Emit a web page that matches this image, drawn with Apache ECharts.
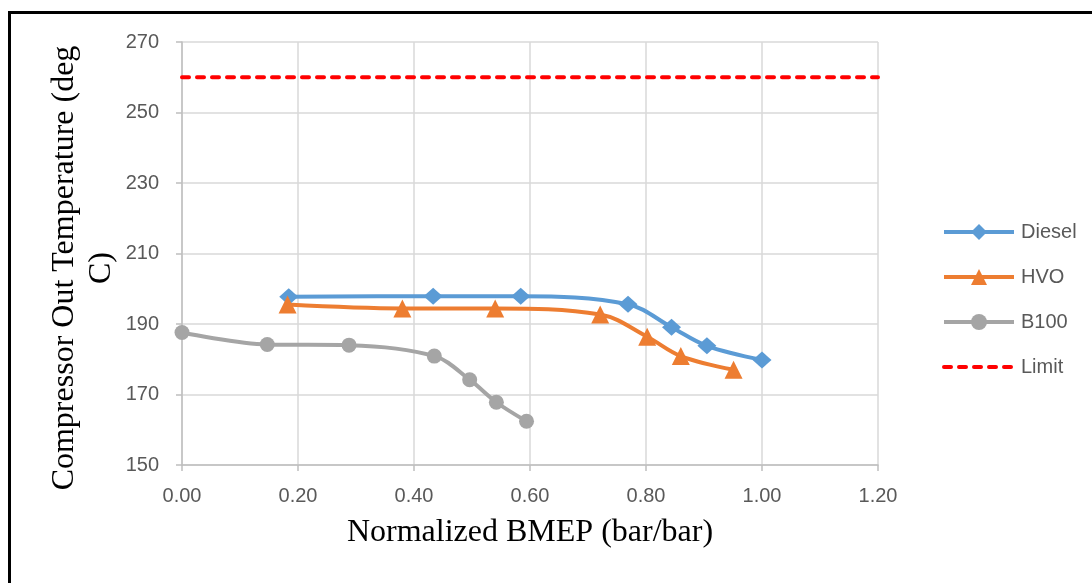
<!DOCTYPE html>
<html>
<head>
<meta charset="utf-8">
<style>
html,body{margin:0;padding:0;background:#fff;}
#chart{width:1092px;height:583px;}
</style>
<script src="https://cdn.jsdelivr.net/npm/echarts@6/dist/echarts.min.js"></script>
</head>
<body>
<div id="chart"></div>
<script>
// Data
const xTickMin = 0, xTickMax = 1.2, xTickStep = 0.2;
const yTickMin = 150, yTickMax = 270, yTickStep = 20;

const seriesNames = ['Diesel', 'HVO', 'B100', 'Limit'];

const dieselX = [0.184, 0.433, 0.584, 0.769, 0.844, 0.905, 1.000];
const dieselY = [197.7, 197.9, 197.9, 195.6, 189.1, 183.8, 179.8];

const hvoX = [0.182, 0.380, 0.540, 0.721, 0.802, 0.860, 0.951];
const hvoY = [195.5, 194.4, 194.4, 192.7, 186.4, 180.9, 177.0];

const b100X = [0.000, 0.147, 0.288, 0.435, 0.496, 0.542, 0.594];
const b100Y = [187.6, 184.2, 184.0, 180.9, 174.2, 167.8, 162.4];

const limitX = [0.0, 1.2];
const limitY = [260, 260];

const xTitle = 'Normalized BMEP (bar/bar)';
const yTitle = 'Compressor Out Temperature (deg\nC)';

function pairs(xs, ys) { return xs.map((x, i) => [x, ys[i]]); }

const chart = echarts.init(document.getElementById('chart'), null, {renderer: 'canvas'});

const tickFont = {color: '#595959', fontFamily: '"Liberation Sans", Arial, sans-serif', fontSize: 20};

chart.setOption({
  animation: false,
  backgroundColor: '#ffffff',
  grid: {left: 182, right: 214, top: 42, bottom: 118, containLabel: false},
  xAxis: {
    type: 'value', min: xTickMin, max: xTickMax, interval: xTickStep,
    axisLine: {show: true, lineStyle: {color: '#bfbfbf', width: 1.5}},
    axisTick: {show: true, inside: false, length: 6, lineStyle: {color: '#bfbfbf', width: 1.5}},
    splitLine: {show: true, lineStyle: {color: '#d9d9d9', width: 1.5}},
    axisLabel: Object.assign({margin: 21, formatter: v => v.toFixed(2)}, tickFont)
  },
  yAxis: {
    type: 'value', min: yTickMin, max: yTickMax, interval: yTickStep,
    axisLine: {show: true, lineStyle: {color: '#bfbfbf', width: 1.5}},
    axisTick: {show: true, inside: false, length: 6, lineStyle: {color: '#bfbfbf', width: 1.5}},
    splitLine: {show: true, lineStyle: {color: '#d9d9d9', width: 1.5}},
    axisLabel: Object.assign({margin: 23}, tickFont)
  },
  legend: {
    orient: 'vertical', left: 942, top: 222, padding: 0,
    itemWidth: 70, itemHeight: 20, itemGap: 25,
    lineStyle: {width: 4},
    data: [
      {name: seriesNames[0]},
      {name: seriesNames[1]},
      {name: seriesNames[2]},
      {name: seriesNames[3], itemStyle: {opacity: 0}}
    ],
    textStyle: {color: '#595959', fontFamily: '"Liberation Sans", Arial, sans-serif', fontSize: 20, lineHeight: 20, padding: [0, 0, 0, 2]}
  },
  series: [
    {
      name: seriesNames[0], type: 'line', data: pairs(dieselX, dieselY), smooth: 0.35,
      symbol: 'diamond', symbolSize: [19, 17], showSymbol: true,
      lineStyle: {color: '#5b9bd5', width: 4}, itemStyle: {color: '#5b9bd5'}
    },
    {
      name: seriesNames[1], type: 'line', data: pairs(hvoX, hvoY), smooth: 0.35,
      symbol: 'triangle', symbolSize: 18, showSymbol: true,
      lineStyle: {color: '#ed7d31', width: 4}, itemStyle: {color: '#ed7d31'}
    },
    {
      name: seriesNames[2], type: 'line', data: pairs(b100X, b100Y), smooth: 0.35,
      symbol: 'circle', symbolSize: 15, showSymbol: true,
      lineStyle: {color: '#a5a5a5', width: 4}, itemStyle: {color: '#a5a5a5'}
    },
    {
      name: seriesNames[3], type: 'line', data: pairs(limitX, limitY),
      symbol: 'none',
      lineStyle: {color: '#ff0000', width: 4, type: [7, 8], cap: 'round'}, itemStyle: {color: '#ff0000'}
    }
  ],
  graphic: [
    {
      type: 'rect', silent: true, z: 100,
      shape: {x: 9.5, y: 12.5, width: 1200, height: 700},
      style: {fill: 'none', stroke: '#000000', lineWidth: 3}
    },
    {
      type: 'text', x: 530, y: 533, silent: true,
      style: {text: xTitle, align: 'center', verticalAlign: 'middle',
        font: '32px "Liberation Serif", "Times New Roman", serif', fill: '#000000'}
    },
    {
      type: 'text', x: 83, y: 268, rotation: Math.PI / 2, silent: true,
      style: {text: yTitle, align: 'center', verticalAlign: 'middle', lineHeight: 37,
        font: '32px "Liberation Serif", "Times New Roman", serif', fill: '#000000'}
    }
  ]
});
</script>
</body>
</html>
